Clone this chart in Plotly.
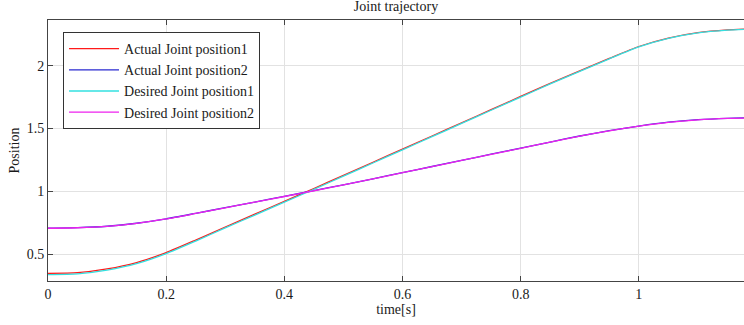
import plotly.graph_objects as go

time_s = [0, 0.05, 0.1, 0.15, 0.2, 0.25, 0.3, 0.35, 0.4, 0.45, 0.5, 0.55, 0.6,
          0.65, 0.7, 0.75, 0.8, 0.85, 0.9, 0.95, 1.0, 1.05, 1.1, 1.15, 1.18]

desired_joint1 = [0.336, 0.342, 0.372, 0.423, 0.503, 0.603, 0.708, 0.810, 0.913, 1.015,
                  1.120, 1.225, 1.330, 1.435, 1.540, 1.645, 1.750, 1.855, 1.955, 2.055,
                  2.150, 2.218, 2.262, 2.284, 2.290]
actual_joint1 = [0.346, 0.351, 0.381, 0.432, 0.511, 0.611, 0.715, 0.817, 0.920, 1.022,
                 1.126, 1.231, 1.336, 1.440, 1.545, 1.650, 1.755, 1.859, 1.959, 2.058,
                 2.153, 2.220, 2.263, 2.285, 2.291]
desired_joint2 = [0.705, 0.709, 0.720, 0.744, 0.779, 0.823, 0.868, 0.913, 0.958, 1.004,
                  1.050, 1.098, 1.148, 1.196, 1.245, 1.294, 1.342, 1.391, 1.439, 1.481,
                  1.518, 1.549, 1.569, 1.580, 1.583]
actual_joint2 = [0.706, 0.710, 0.721, 0.745, 0.780, 0.824, 0.869, 0.914, 0.959, 1.005,
                 1.051, 1.099, 1.149, 1.197, 1.246, 1.295, 1.343, 1.392, 1.440, 1.482,
                 1.519, 1.550, 1.570, 1.581, 1.584]

series = [
    ("Actual Joint position1", actual_joint1, "#ff1a1a"),
    ("Actual Joint position2", actual_joint2, "#2a2ad0"),
    ("Desired Joint position1", desired_joint1, "#33e0e0"),
    ("Desired Joint position2", desired_joint2, "#ee22ee"),
]

FONT = "Liberation Serif"
TXT = "#1a1a1a"

fig = go.Figure()
for name, ys, col in series:
    fig.add_trace(go.Scatter(x=time_s, y=ys, mode="lines", name=name,
                             line=dict(color=col, width=1.3, shape="spline", smoothing=0.6)))

axis_common = dict(
    showline=True, linecolor="#444444", linewidth=1,
    ticks="inside", ticklen=5, tickcolor="#444444",
    showgrid=True, gridcolor="#e2e2e2", gridwidth=1,
    zeroline=False,
    tickfont=dict(family=FONT, size=14, color=TXT),
)

fig.update_layout(
    width=744, height=325,
    margin=dict(l=48, r=0, t=20, b=44),
    paper_bgcolor="white", plot_bgcolor="white",
    font=dict(family=FONT, size=14, color=TXT),
    title=dict(text="Joint trajectory", x=0.5, xref="paper", xanchor="center",
               y=1, yref="container", yanchor="top", pad=dict(t=1),
               font=dict(family=FONT, size=14, color=TXT)),
    showlegend=True,
    legend=dict(x=0.0216, y=0.954, xanchor="left", yanchor="top",
                bgcolor="white", bordercolor="#333333", borderwidth=1,
                font=dict(family=FONT, size=14, color=TXT),
                tracegroupgap=0, itemwidth=50),
)
fig.update_xaxes(range=[0, 1.178], tickvals=[0, 0.2, 0.4, 0.6, 0.8, 1],
                 ticktext=["0", "0.2", "0.4", "0.6", "0.8", "1"],
                 mirror="ticks",
                 title=dict(text="time[s]", standoff=2, font=dict(family=FONT, size=14, color=TXT)),
                 **axis_common)
fig.update_yaxes(range=[0.285, 2.364], tickvals=[0.5, 1, 1.5, 2],
                 ticktext=["0.5", "1", "1.5", "2"],
                 mirror=False,
                 title=dict(text="Position", standoff=3, font=dict(family=FONT, size=14, color=TXT)),
                 **axis_common)

fig.write_html("out.html")
